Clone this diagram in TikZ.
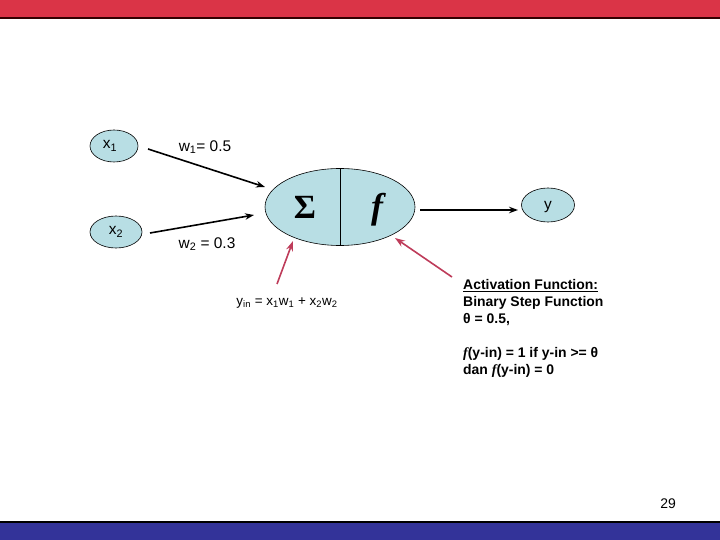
\documentclass[tikz,border=0pt]{standalone}
\usepackage{fontspec}
\setmainfont{Liberation Sans}
\newfontfamily\seriffam{Liberation Serif}
\usetikzlibrary{arrows.meta,shapes.geometric}
\definecolor{topred}{RGB}{218,52,71}
\definecolor{botblue}{RGB}{51,51,153}
\definecolor{cellblue}{RGB}{184,222,228}
\definecolor{arrred}{RGB}{190,60,90}
\begin{document}
\begin{tikzpicture}[x=1bp,y=-1bp,
  cell/.style={ellipse,draw=black,line width=0.6bp,fill=cellblue,inner sep=0pt},
  lbl/.style={font=\fontsize{15.5}{17}\selectfont,inner sep=0pt},
  blk/.style={line width=1.6bp,-{Stealth[length=9bp,width=6.5bp]}},
  redarr/.style={arrred,line width=1.6bp,-{Stealth[length=10bp,width=7bp]}},
  txt/.style={font=\fontsize{14}{17}\selectfont\bfseries,align=left,inner sep=0pt,anchor=north west}]
\useasboundingbox (0,0) rectangle (720,540);
\fill[topred] (0,0) rectangle (720,18);
\draw[line width=1.2bp,black!80!red] (0,18) -- (720,18);
\fill[botblue] (0,522) rectangle (720,540);
\draw[line width=1.2bp,black] (0,522) -- (720,522);

\node[cell,minimum width=48bp,minimum height=32bp] (x1) at (114,146) {};
\node[lbl] (x1t) at (110,146) {x\textsubscript{1}};
\node[cell,minimum width=52bp,minimum height=32bp] (x2) at (116,232) {};
\node[lbl] (x2t) at (116,232) {x\textsubscript{2}};
\node[cell,minimum width=150bp,minimum height=77bp] (sum) at (340,207) {};
\draw[line width=0.8bp] (sum.north) -- (sum.south);
\node[font=\seriffam\bfseries\fontsize{34}{34}\selectfont,inner sep=0pt] (sig) at (305,207) {Σ};
\node[font=\seriffam\bfseries\itshape\fontsize{36}{36}\selectfont,inner sep=0pt] (ff) at (377,210) {f};
\node[cell,minimum width=53bp,minimum height=34bp] (y) at (548,205) {};
\node[lbl] (yt) at (548,207) {y};

\node[lbl] (w1) at (205,147) {w\textsubscript{1}= 0.5};
\node[lbl] (w2) at (207,244) {w\textsubscript{2} = 0.3};

\coordinate (a1s) at (148,149);
\coordinate (a1e) at (265,187);
\coordinate (a2s) at (150,233);
\coordinate (a2e) at (254,215);
\coordinate (a3s) at (420,210);
\coordinate (a3e) at (518,210);
\draw[blk] (a1s) -- (a1e);
\draw[blk] (a2s) -- (a2e);
\draw[blk] (a3s) -- (a3e);

\node[font=\fontsize{13.5}{15}\selectfont,inner sep=0pt] (yin) at (287,303) {y\textsubscript{in} = x\textsubscript{1}w\textsubscript{1} + x\textsubscript{2}w\textsubscript{2}};
\coordinate (r1s) at (277,284);
\coordinate (r1e) at (293,241);
\draw[redarr] (r1s) -- (r1e);
\coordinate (r2s) at (452,277);
\coordinate (r2e) at (395,238);
\draw[redarr] (r2s) -- (r2e);

\node[txt] (act) at (463,279) {\underline{Activation Function:}\\Binary Step Function\\θ = 0.5,};
\node[txt] (rule) at (463,347) {{\seriffam\itshape f}(y-in) = 1 if  y-in >= θ\\dan {\seriffam\itshape f}(y-in) = 0};
\node[font=\fontsize{14}{16}\selectfont,inner sep=0pt] (pg) at (668,504) {29};
\end{tikzpicture}
\end{document}
